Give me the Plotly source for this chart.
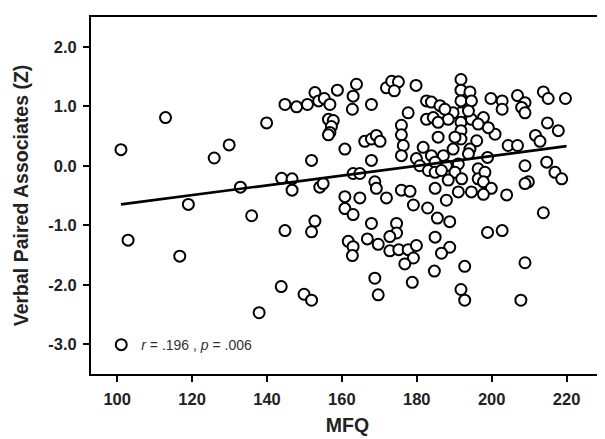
import plotly.graph_objects as go

# MFQ (x) and Verbal Paired Associates Z-score (y)
mfq = [
    101.0, 112.9, 125.9, 129.9, 139.9, 132.9, 119.0, 135.9, 102.9, 116.7, 143.8, 137.9,
    144.8, 147.9, 150.8, 152.8, 153.8, 155.3, 156.8, 158.8, 163.9, 163.0, 162.8, 167.9,
    171.9, 173.3, 175.1, 174.0, 179.8, 156.4, 157.7, 157.2, 156.8, 156.4, 160.8, 151.9,
    166.1, 167.9, 169.2, 170.2, 167.9, 175.9, 175.9, 176.4, 175.9, 177.7, 182.6, 183.9,
    182.6, 184.4, 181.7, 179.9, 180.8, 183.1, 183.9, 143.9, 146.7, 146.7, 154.1, 155.0,
    163.0, 164.8, 168.8, 169.2, 175.9, 178.2, 184.9,
    171.9, 160.8, 164.8, 160.8, 163.0, 179.1, 182.9, 152.8, 151.9, 144.8, 167.9, 174.6,
    174.6, 172.8, 166.8, 169.7, 172.8, 175.2, 177.7, 179.9, 179.1, 176.8, 161.7, 163.0,
    162.8, 184.7, 168.8, 169.7, 178.8, 149.9, 151.9,
    191.8, 191.8, 194.2, 191.8, 194.6, 186.2, 199.8, 202.8, 202.8, 206.9, 208.9, 208.0,
    208.9, 213.8, 215.1, 219.7, 214.9, 217.8, 211.7, 212.9, 204.4, 206.9, 200.9, 197.8,
    199.1, 191.8, 191.8, 191.8, 191.8, 189.7, 188.4, 185.7, 194.6, 196.0, 194.2, 190.2,
    185.7, 189.7, 187.1, 193.8, 198.9, 184.9, 187.9, 191.1, 190.2, 196.4, 184.9, 186.6,
    192.0, 196.4, 198.2, 191.1, 194.6, 197.8, 199.9, 204.0, 208.9, 209.8, 214.7, 216.9,
    218.7,
    208.9, 187.9, 197.8, 185.5, 188.8, 184.9, 188.8, 186.6, 192.8, 191.8, 192.8, 198.9,
    202.8, 213.8, 208.9, 207.8,
    196.4, 193.8, 188.4, 187.5,
]
vpa_z = [
    0.27, 0.81, 0.13, 0.35, 0.72, -0.36, -0.65, -0.84, -1.25, -1.52, -2.03, -2.47,
    1.03, 0.99, 1.03, 1.23, 1.09, 1.13, 1.03, 1.27, 1.37, 1.17, 0.95, 1.03,
    1.31, 1.42, 1.41, 1.26, 1.35, 0.78, 0.76, 0.66, 0.56, 0.52, 0.28, 0.09,
    0.41, 0.45, 0.51, 0.41, 0.09, 0.68, 0.52, 0.34, 0.17, 0.89, 1.09, 1.07,
    0.78, 0.81, 0.31, 0.12, 0.00, -0.08, 0.17, -0.21, -0.22, -0.41, -0.36, -0.30,
    -0.13, -0.13, -0.27, -0.38, -0.41, -0.43, -0.38,
    -0.54, -0.52, -0.54, -0.72, -0.82, -0.66, -0.71, -0.93, -1.11, -1.09, -0.97, -0.97,
    -1.13, -1.19, -1.23, -1.32, -1.43, -1.41, -1.41, -1.34, -1.55, -1.65, -1.27, -1.36,
    -1.51, -1.77, -1.89, -2.17, -1.96, -2.16, -2.26,
    1.45, 1.27, 1.24, 1.09, 1.09, 1.01, 1.13, 1.09, 0.95, 1.18, 1.06, 0.98,
    0.89, 1.24, 1.13, 1.13, 0.72, 0.59, 0.51, 0.41, 0.34, 0.34, 0.53, 0.81,
    0.64, 0.89, 0.73, 0.59, 0.45, 0.89, 0.78, 0.73, 0.78, 0.42, 0.28, 0.48,
    0.48, 0.28, 0.17, 0.20, 0.14, 0.06, 0.00, 0.03, -0.11, -0.05, -0.11, -0.08,
    -0.22, -0.22, -0.11, -0.44, -0.44, -0.27, -0.38, -0.49, 0.00, -0.27, 0.06, -0.11,
    -0.22,
    -0.30, -0.58, -0.48, -0.88, -0.94, -1.20, -1.37, -1.47, -1.69, -2.08, -2.26, -1.12,
    -1.09, -0.79, -1.63, -2.26,
    0.70, 0.92, -0.24, 0.95,
]

# regression line end points
fit_x = [101, 220]
fit_y = [-0.65, 0.33]

stat_label = "<i>r</i> = .196 , <i>p</i> = .006"

x_ticks = [100, 120, 140, 160, 180, 200, 220]
x_ticklabels = ["100", "120", "140", "160", "180", "200", "220"]
y_ticks = [-3, -2, -1, 0, 1, 2]
y_ticklabels = ["-3.0", "-2.0", "-1.0", "0.0", "1.0", "2.0"]

FONT = "Arial, Liberation Sans, sans-serif"

fig = go.Figure()
fig.add_trace(go.Scatter(
    x=mfq, y=vpa_z, mode="markers", name=stat_label,
    marker=dict(symbol="circle", size=11, color="white",
                line=dict(color="black", width=2)),
    showlegend=True,
))
fig.add_trace(go.Scatter(
    x=fit_x, y=fit_y, mode="lines",
    line=dict(color="black", width=2.7),
    showlegend=False,
))

axis_common = dict(
    showline=True, linecolor="black", linewidth=2, mirror=True,
    ticks="outside", ticklen=6, tickwidth=2, tickcolor="black",
    showgrid=False, zeroline=False,
    tickfont=dict(family=FONT, size=16.5, color="#222", weight="bold"),
    ticklabelstandoff=3,
)

fig.update_layout(
    width=605, height=439,
    margin=dict(l=83, r=9, t=7, b=73),
    paper_bgcolor="white", plot_bgcolor="white",
    xaxis=dict(range=[93, 230], tickvals=x_ticks, ticktext=x_ticklabels,
               title=dict(text="MFQ", font=dict(family=FONT, size=19.5, color="#222", weight="bold"),
                          standoff=12),
               **axis_common),
    yaxis=dict(range=[-3.5, 2.5], tickvals=y_ticks, ticktext=y_ticklabels,
               title=dict(text="Verbal Paired Associates (Z)",
                          font=dict(family=FONT, size=19.5, color="#222", weight="bold"),
                          standoff=14),
               **axis_common),
    legend=dict(x=0.02, y=0.081, xanchor="left", yanchor="middle",
                bgcolor="rgba(0,0,0,0)",
                font=dict(family=FONT, size=14, color="#333")),
    showlegend=True,
)

fig.write_html("out.html")
